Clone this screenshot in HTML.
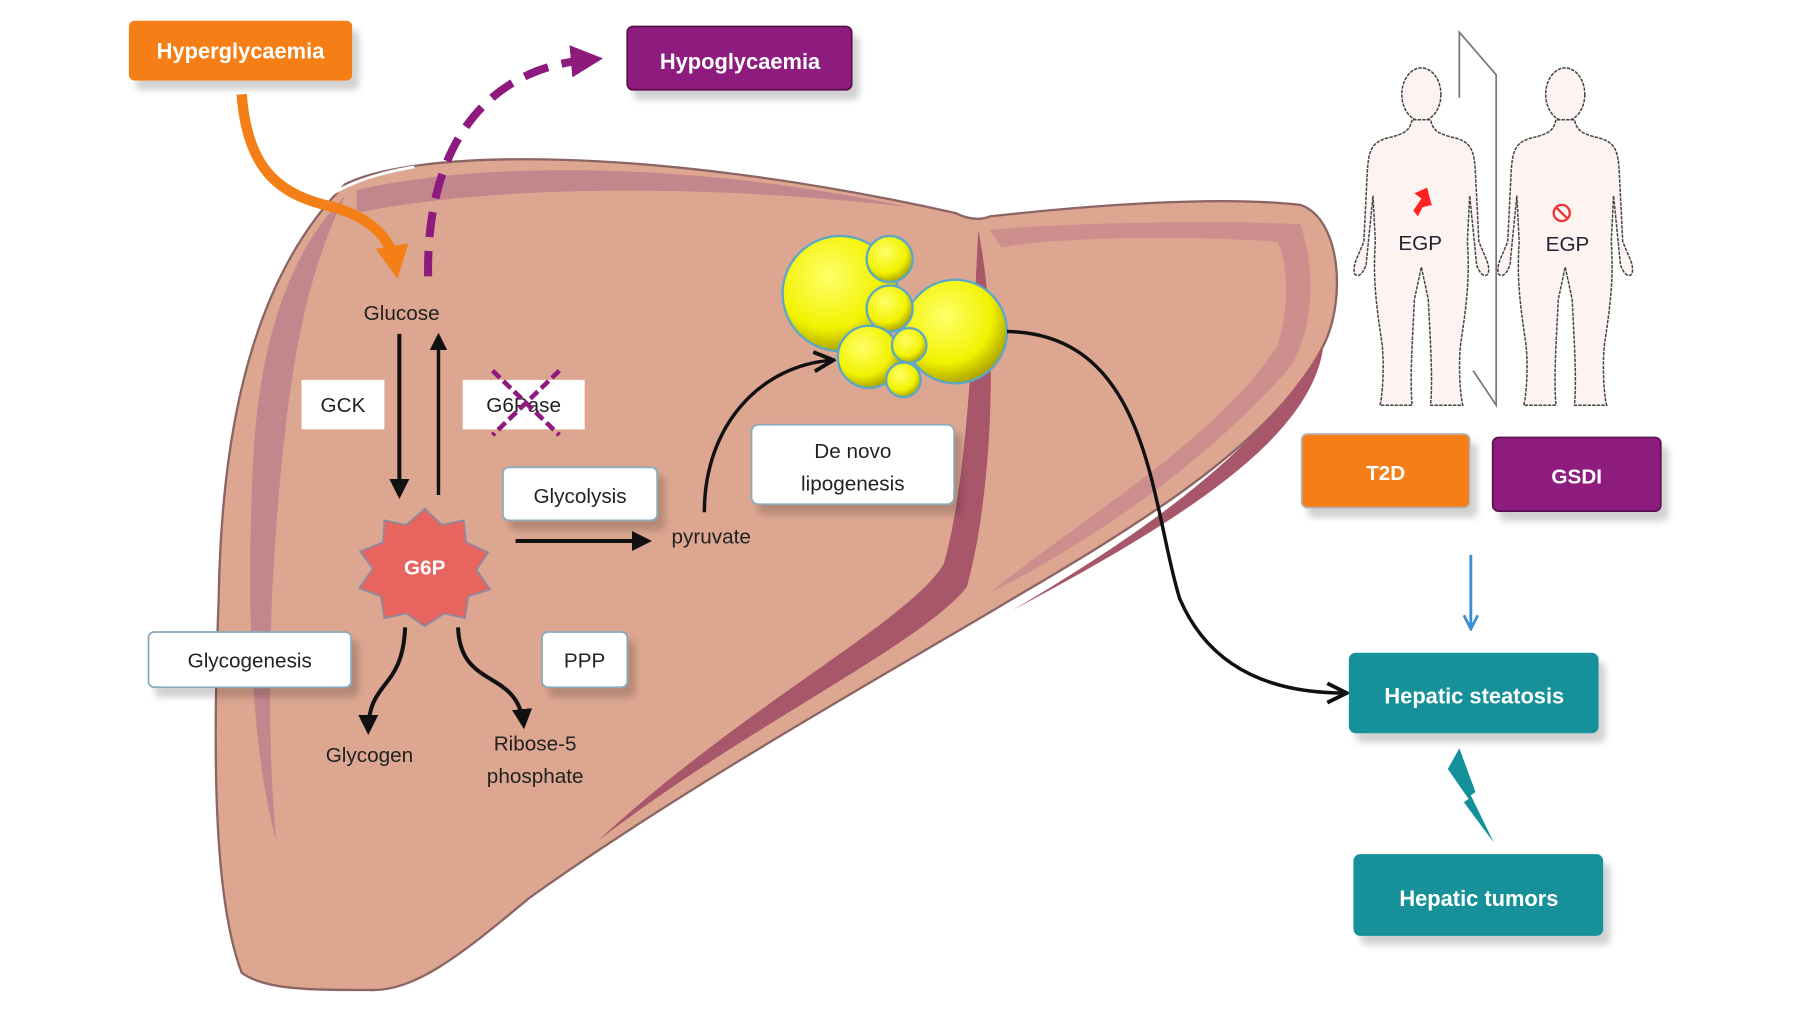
<!DOCTYPE html>
<html><head><meta charset="utf-8"><style>
html,body{margin:0;padding:0;background:#fff;}
svg{display:block;}
text{font-family:"Liberation Sans",sans-serif;}
</style></head><body>
<svg width="1800" height="1013" viewBox="0 0 1564 880" preserveAspectRatio="none" xmlns="http://www.w3.org/2000/svg">
<defs>
<marker id="ab" viewBox="0 0 10 10" refX="8" refY="5" markerWidth="5" markerHeight="5" orient="auto"><path d="M0,0 L10,5 L0,10 z" fill="#111"/></marker>
<marker id="ab2" viewBox="0 0 10 10" refX="8" refY="5" markerWidth="7" markerHeight="7" orient="auto"><path d="M1,1 L9,5 L1,9" fill="none" stroke="#111" stroke-width="1.6"/></marker>
<marker id="ao" viewBox="0 0 10 10" refX="5" refY="5" markerWidth="3.2" markerHeight="3.2" orient="auto"><path d="M0,0 L10,5 L0,10 z" fill="#f57f17"/></marker>
<marker id="ap" viewBox="0 0 10 10" refX="5" refY="5" markerWidth="4" markerHeight="4" orient="auto"><path d="M0,0 L10,5 L0,10 z" fill="#8e1a7e"/></marker>
<marker id="abl" viewBox="0 0 10 10" refX="8" refY="5" markerWidth="6" markerHeight="6" orient="auto"><path d="M1,1 L9,5 L1,9" fill="none" stroke="#3b8fd0" stroke-width="1.6"/></marker>
<filter id="sh" x="-10%" y="-10%" width="130%" height="150%"><feDropShadow dx="6" dy="8" stdDeviation="3" flood-color="#000" flood-opacity="0.18"/></filter>
<radialGradient id="fat" cx="40%" cy="35%" r="65%"><stop offset="0" stop-color="#ffff6a"/><stop offset="0.7" stop-color="#f2f200"/><stop offset="1" stop-color="#b0a800"/></radialGradient>
<g id="human">
<ellipse cx="0" cy="22" rx="17" ry="23" fill="#fdf3f0" stroke="#444" stroke-width="1.3" stroke-dasharray="3 1"/>
<path d="M -8,44 C -10,52 -12,56 -30,60 C -44,64 -46,72 -47,90 L -50,150 C -56,165 -60,170 -58,178 C -54,182 -50,176 -48,170 L -42,110 L -40,150 C -42,180 -40,200 -34,240 C -32,260 -34,285 -36,292 L -8,292 C -10,270 -8,240 -6,200 L 0,172 L 6,200 C 8,240 10,270 8,292 L 36,292 C 34,285 32,260 34,240 C 40,200 42,180 40,150 L 42,110 L 48,170 C 50,176 54,182 58,178 C 60,170 56,165 50,150 L 47,90 C 46,72 44,64 30,60 C 12,56 10,52 8,44 Z" fill="#fdf3f0" stroke="#444" stroke-width="1.3" stroke-dasharray="3 1"/>
</g>
</defs>

<!-- liver -->
<path d="M300,160 C360,130 560,125 830,185 C840,190 850,192 860,188 C950,178 1060,170 1130,178 C1165,190 1170,260 1150,300 C1110,380 1000,450 880,520 C780,580 600,680 460,780 C400,830 360,862 320,860 C270,860 230,860 210,845 C185,780 185,650 190,520 C192,400 210,250 300,160 Z" fill="#dca690" stroke="#8c6464" stroke-width="2"/>
<path d="M300,170 C250,220 225,300 220,400 C215,500 215,640 240,730 C230,620 235,500 245,400 C255,300 270,230 300,170 Z" fill="#c4868d"/>
<path d="M310,165 C420,140 600,140 790,180 C620,160 430,160 310,185 Z" fill="#c4868d"/>
<path d="M850,200 C870,300 860,440 840,510 C800,560 650,630 520,730 C650,610 790,540 820,490 C840,420 845,300 850,200 Z" fill="#a8566a"/>
<path d="M860,200 C900,195 1050,190 1130,195 C1145,240 1140,290 1120,320 C1050,400 950,470 860,515 C940,450 1060,380 1110,300 C1120,270 1120,230 1110,210 C1050,205 920,205 870,215 Z" fill="#c4868d" opacity="0.7"/>
<path d="M880,530 C980,470 1090,400 1150,300 C1140,380 1030,450 880,530 Z" fill="#a8566a"/>
<path d="M260,190 C290,160 330,150 360,145" fill="none" stroke="#fff" stroke-width="2.5"/>

<g stroke="#5aa8c8" stroke-width="2">
<circle cx="730" cy="255" r="50" fill="url(#fat)"/>
<circle cx="830" cy="288" r="45" fill="url(#fat)"/>
<circle cx="773" cy="225" r="20" fill="url(#fat)"/>
<circle cx="773" cy="268" r="20" fill="url(#fat)"/>
<circle cx="755" cy="310" r="27" fill="url(#fat)"/>
<circle cx="790" cy="300" r="15" fill="url(#fat)"/>
<circle cx="785" cy="330" r="15" fill="url(#fat)"/>
</g>

<path d="M210,82 C215,150 245,170 290,180 C325,190 340,210 343,228" fill="none" stroke="#f57f17" stroke-width="9" marker-end="url(#ao)"/>
<path d="M372,240 C370,130 420,60 510,52" fill="none" stroke="#8e1a7e" stroke-width="7" stroke-dasharray="22 12" marker-end="url(#ap)"/>
<line x1="347" y1="290" x2="347" y2="430" stroke="#111" stroke-width="3.5" marker-end="url(#ab)"/>
<line x1="381" y1="430" x2="381" y2="292" stroke="#111" stroke-width="3" marker-end="url(#ab)"/>
<line x1="448" y1="470" x2="563" y2="470" stroke="#111" stroke-width="3.5" marker-end="url(#ab)"/>
<path d="M352,545 C350,600 320,590 320,635" fill="none" stroke="#111" stroke-width="3.5" marker-end="url(#ab)"/>
<path d="M398,545 C400,600 450,580 455,630" fill="none" stroke="#111" stroke-width="3.5" marker-end="url(#ab)"/>
<path d="M612,445 C612,370 660,318 722,313" fill="none" stroke="#111" stroke-width="3" marker-end="url(#ab2)"/>
<path d="M875,288 C1000,290 1000,440 1025,520 C1055,590 1120,602 1168,602" fill="none" stroke="#111" stroke-width="3" marker-end="url(#ab2)"/>
<line x1="1278" y1="482" x2="1278" y2="545" stroke="#3b8fd0" stroke-width="2.5" marker-end="url(#abl)"/>

<rect x="112" y="18" width="194" height="52" rx="5" fill="#f57f17" filter="url(#sh)"/>
<text x="209" y="51" text-anchor="middle" font-size="19" font-weight="bold" fill="#fff">Hyperglycaemia</text>
<rect x="545" y="23" width="195" height="55" rx="5" fill="#8e1a7e" stroke="#5a1050" stroke-width="1.5" filter="url(#sh)"/>
<text x="643" y="60" text-anchor="middle" font-size="19" font-weight="bold" fill="#fff">Hypoglycaemia</text>

<text x="349" y="278" text-anchor="middle" font-size="18" fill="#222">Glucose</text>
<rect x="262" y="330" width="72" height="43" fill="#fff"/>
<text x="298" y="358" text-anchor="middle" font-size="18" fill="#222">GCK</text>
<rect x="402" y="330" width="106" height="43" fill="#fff"/>
<text x="455" y="358" text-anchor="middle" font-size="18" fill="#222">G6Pase</text>
<g stroke="#8e1a7e" stroke-width="4" stroke-dasharray="9 4"><line x1="428" y1="322" x2="486" y2="378"/><line x1="486" y1="322" x2="428" y2="378"/></g>
<rect x="437" y="406" width="134" height="46" rx="5" fill="#fff" stroke="#8ab" stroke-width="1.5" filter="url(#sh)"/>
<text x="504" y="437" text-anchor="middle" font-size="18" fill="#222">Glycolysis</text>
<text x="618" y="472" text-anchor="middle" font-size="18" fill="#222">pyruvate</text>
<rect x="653" y="369" width="176" height="69" rx="6" fill="#fff" stroke="#8ab" stroke-width="1.5" filter="url(#sh)"/>
<text x="741" y="398" text-anchor="middle" font-size="18" fill="#222">De novo</text>
<text x="741" y="426" text-anchor="middle" font-size="18" fill="#222">lipogenesis</text>
<polygon points="369,442 384,456 403,452 405,471 424,480 414,495 426,512 407,518 404,537 386,533 369,544 353,533 334,537 331,518 312,511 324,494 313,479 333,471 334,452 353,456" fill="#e8655f" stroke="#8a8aa0" stroke-width="1.5"/>
<text x="369" y="499" text-anchor="middle" font-size="18" font-weight="bold" fill="#fff">G6P</text>
<rect x="129" y="549" width="176" height="48" rx="5" fill="#fff" stroke="#8ab" stroke-width="1.5" filter="url(#sh)"/>
<text x="217" y="580" text-anchor="middle" font-size="18" fill="#222">Glycogenesis</text>
<rect x="471" y="549" width="74" height="48" rx="5" fill="#fff" stroke="#8ab" stroke-width="1.5" filter="url(#sh)"/>
<text x="508" y="580" text-anchor="middle" font-size="18" fill="#222">PPP</text>
<text x="321" y="662" text-anchor="middle" font-size="18" fill="#222">Glycogen</text>
<text x="465" y="652" text-anchor="middle" font-size="18" fill="#222">Ribose-5</text>
<text x="465" y="680" text-anchor="middle" font-size="18" fill="#222">phosphate</text>

<use href="#human" transform="translate(1235,60)"/>
<use href="#human" transform="translate(1360,60)"/>
<polyline points="1268,85 1268,28 1300,65 1300,352 1280,322" fill="none" stroke="#777" stroke-width="1.5"/>
<path d="M1228,183 L1240,165 L1244,178 L1236,180 L1232,188 Z" fill="#f22"/>
<path d="M1240,163 L1229,168 L1244,179 Z" fill="#f22"/>
<text x="1234" y="217" text-anchor="middle" font-size="18" fill="#223">EGP</text>
<circle cx="1357" cy="185" r="7" fill="none" stroke="#e33" stroke-width="2"/>
<line x1="1352" y1="180" x2="1362" y2="190" stroke="#e33" stroke-width="2"/>
<text x="1362" y="218" text-anchor="middle" font-size="18" fill="#223">EGP</text>

<rect x="1131" y="377" width="146" height="64" rx="5" fill="#f57f17" stroke="#b5b5b5" stroke-width="1.5" filter="url(#sh)"/>
<text x="1204" y="417" text-anchor="middle" font-size="18" font-weight="bold" fill="#fff">T2D</text>
<rect x="1297" y="380" width="146" height="64" rx="5" fill="#8e1a7e" stroke="#5a1050" stroke-width="1.5" filter="url(#sh)"/>
<text x="1370" y="420" text-anchor="middle" font-size="18" font-weight="bold" fill="#fff">GSDI</text>
<rect x="1172" y="567" width="217" height="70" rx="6" fill="#13919a" filter="url(#sh)"/>
<text x="1281" y="611" text-anchor="middle" font-size="19" font-weight="bold" fill="#fff">Hepatic steatosis</text>
<polygon points="1258,668 1268,650 1282,688 1278,691 1298,732 1272,697 1276,694" fill="#13919a"/>
<rect x="1176" y="742" width="217" height="71" rx="6" fill="#13919a" filter="url(#sh)"/>
<text x="1285" y="787" text-anchor="middle" font-size="19" font-weight="bold" fill="#fff">Hepatic  tumors</text>
</svg>
</body></html>
